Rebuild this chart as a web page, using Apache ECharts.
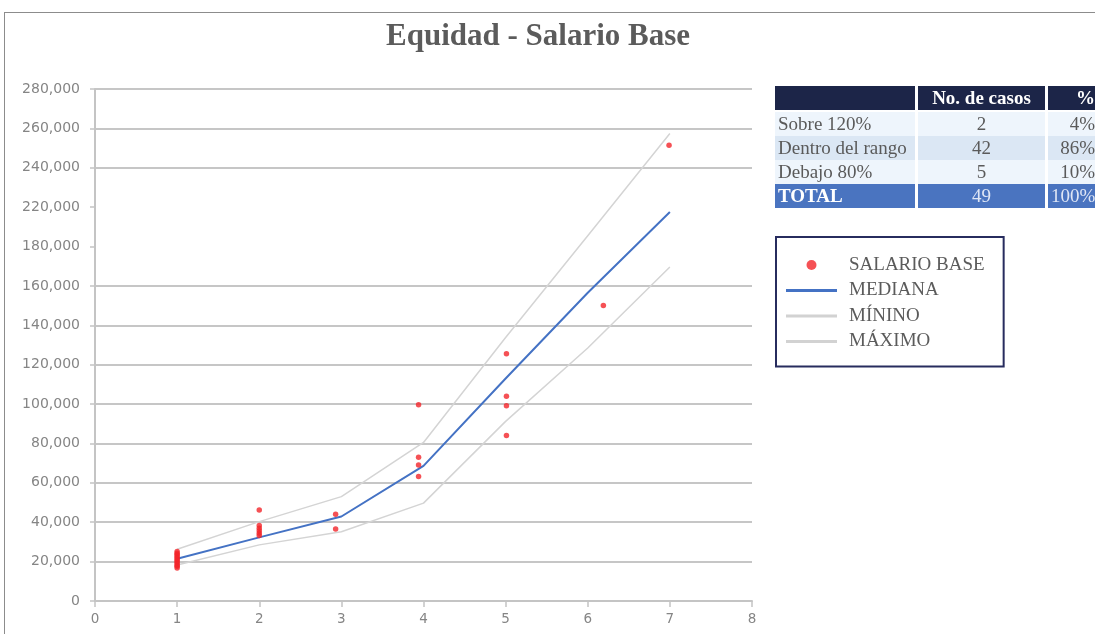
<!DOCTYPE html>
<html>
<head>
<meta charset="utf-8">
<script src="https://cdn.jsdelivr.net/npm/echarts@6/dist/echarts.min.js"></script>
<style>
  html, body { margin:0; padding:0; background:#fff; }
  #wrap { position:relative; width:1095px; height:634px; overflow:hidden; background:#fff; }
  #frame { position:absolute; left:4px; top:12px; right:-10px; bottom:-10px; border-top:1px solid #8c8c8c; border-left:1px solid #8c8c8c; }
  #chart { position:absolute; left:0; top:0; width:1095px; height:634px; }
  #tbl { position:absolute; left:772px; top:86px; width:328px; table-layout:fixed; border-collapse:separate; border-spacing:3px 0; font-family:"Liberation Serif","Times New Roman",serif; font-size:19px; color:#5a5a5a; }
  #tbl td, #tbl th { height:24px; padding:0 3px; line-height:24px; white-space:nowrap; overflow:visible; box-sizing:border-box; }
  #tbl th { background:#1c2548; color:#fff; font-weight:bold; height:26px; border-bottom:2px solid #fff; line-height:24px; }
  #tbl .c1 { text-align:left; }
  #tbl .c2 { text-align:center; }
  #tbl .c3 { text-align:right; padding-right:2px; }
  #tbl tr.light td { background:#eef5fc; }
  #tbl tr.mid td { background:#dbe7f4; }
  #tbl tr.total td { background:#4a74c0; color:#dfe6f5; }
  #tbl tr.total td.c1 { color:#fff; font-weight:bold; }
</style>
</head>
<body>
<div id="wrap">
  <div id="frame"></div>
  <div id="chart"></div>
  <table id="tbl"></table>
</div>
<script>
// ---- data ----
const chartTitle = 'Equidad - Salario Base';
const seriesNames = ['SALARIO BASE', 'MEDIANA', 'MÍNINO', 'MÁXIMO'];

const lineX = [1, 2, 3, 4, 5, 6, 7];
const medianValues = [21500, 32300, 42900, 68600, 113000, 156500, 215000];
const minValues = [18300, 28500, 35200, 49700, 91200, 128500, 169600];
const maxValues = [26300, 40300, 53000, 80500, 133800, 191000, 257400];

const salaryX = [1, 1, 1, 1, 1, 1, 1, 1, 1, 1, 1, 1,
                 2, 2, 2, 2, 2, 2,
                 2.93, 2.93,
                 3.94, 3.94, 3.94, 3.94,
                 5.01, 5.01, 5.01, 5.01,
                 6.19, 6.99];
const salaryY = [16800, 17600, 18200, 19100, 19800, 20600, 21300, 22100, 22900, 23600, 24300, 25100,
                 33200, 34400, 35700, 36900, 38300, 46200,
                 44000, 36600,
                 99600, 73000, 69000, 63200,
                 125600, 104000, 99200, 84000,
                 150000, 251400];

const yTicksHidden = [200000]; // value band compressed (axis break)

const tableHeader = ['', 'No. de casos', '%'];
const tableLabels = ['Sobre 120%', 'Dentro del rango', 'Debajo 80%', 'TOTAL'];
const tableCases = [2, 42, 5, 49];
const tablePct = ['4%', '86%', '10%', '100%'];

// ---- table ----
(function () {
  const t = document.getElementById('tbl');
  let html = '<colgroup><col style="width:140px"><col style="width:127px"><col style="width:49px"></colgroup>';
  html += '<tr>' + tableHeader.map((h, i) => '<th class="c' + (i + 1) + '">' + h + '</th>').join('') + '</tr>';
  const cls = ['light', 'mid', 'light', 'total'];
  tableLabels.forEach((lab, i) => {
    html += '<tr class="' + cls[i] + '"><td class="c1">' + lab + '</td><td class="c2">' + tableCases[i] + '</td><td class="c3">' + tablePct[i] + '</td></tr>';
  });
  t.innerHTML = html;
})();

// ---- chart ----
const fmt = v => String(Math.round(v)).replace(/\B(?=(\d{3})+(?!\d))/g, ',');
const chart = echarts.init(document.getElementById('chart'), null, { renderer: 'canvas' });

const gray = '#d4d4d4';
const axisGray = '#c4c4c4';
chart.setOption({
  animation: false,
  backgroundColor: 'transparent',
  title: {
    text: chartTitle,
    left: 533, top: 16, textAlign: 'center',
    textStyle: { fontFamily: 'Liberation Serif', fontWeight: 'bold', fontSize: 31, color: '#5b5b5b' }
  },
  grid: { left: 95, right: 343, top: 89, bottom: 33, containLabel: false },
  legend: {
    orient: 'vertical',
    left: 776, top: 237,
    padding: [18, 19, 15, 10],
    borderColor: '#272c5e', borderWidth: 2,
    itemWidth: 51, itemHeight: 14, itemGap: 5.5,
    textStyle: { fontFamily: 'Liberation Serif', fontSize: 19, color: '#5b5b5b', lineHeight: 20, padding: [0, 0, 0, 7] },
    selectedMode: false,
    data: [
      { name: seriesNames[0], icon: 'path://M0,0M51,14M25.5,2a5,5 0 1,0 0.001,0z', itemStyle: { color: '#f2262b', borderWidth: 0 } },
      { name: seriesNames[1], icon: 'path://M0,0M51,14M0,5.5h51v3h-51z', itemStyle: { color: '#4472c4', borderWidth: 0 } },
      { name: seriesNames[2], icon: 'path://M0,0M51,14M0,5.5h51v3h-51z', itemStyle: { color: '#d2d2d2', borderWidth: 0 } },
      { name: seriesNames[3], icon: 'path://M0,0M51,14M0,5.5h51v3h-51z', itemStyle: { color: '#d2d2d2', borderWidth: 0 } }
    ]
  },
  xAxis: {
    type: 'value', min: 0, max: 8, interval: 1,
    axisLine: { show: true, lineStyle: { color: axisGray, width: 2 } },
    axisTick: { show: true, length: 6, lineStyle: { color: axisGray, width: 1.5 } },
    splitLine: { show: false },
    axisLabel: { fontFamily: 'DejaVu Sans', fontSize: 13.5, color: '#858585', margin: 11 }
  },
  yAxis: [
    {
      type: 'value', min: 0, max: 280000, interval: 20000,
      breaks: [{ start: 180000, end: 220000, gap: 20000 }],
      breakArea: { show: false },
      axisLine: { show: false },
      axisTick: { show: true, length: 5, lineStyle: { color: axisGray, width: 1.5 } },
      splitLine: { show: true, lineStyle: { color: '#c6c6c6', width: 2 } },
      axisLabel: {
        fontFamily: 'DejaVu Sans', fontSize: 14, color: '#858585', margin: 15,
        formatter: v => (yTicksHidden.indexOf(v) >= 0 ? '' : fmt(v))
      }
    },
    {
      type: 'value', min: 0, max: 1, position: 'left', offset: 0,
      axisLine: { show: true, lineStyle: { color: axisGray, width: 2 } },
      axisTick: { show: false }, axisLabel: { show: false }, splitLine: { show: false }
    }
  ],
  series: [
    {
      name: seriesNames[0], type: 'scatter', z: 5, yAxisIndex: 0,
      symbol: 'circle', symbolSize: 5.5,
      itemStyle: { color: '#f2262b' },
      data: salaryX.map((x, i) => [x, salaryY[i]])
    },
    {
      name: seriesNames[1], type: 'line', z: 4, symbol: 'none', yAxisIndex: 0,
      lineStyle: { color: '#4472c4', width: 2 }, itemStyle: { color: '#4472c4' },
      data: lineX.map((x, i) => [x, medianValues[i]])
    },
    {
      name: seriesNames[2], type: 'line', z: 3, symbol: 'none', yAxisIndex: 0,
      lineStyle: { color: gray, width: 1.5 }, itemStyle: { color: gray },
      data: lineX.map((x, i) => [x, minValues[i]])
    },
    {
      name: seriesNames[3], type: 'line', z: 3, symbol: 'none', yAxisIndex: 0,
      lineStyle: { color: gray, width: 1.5 }, itemStyle: { color: gray },
      data: lineX.map((x, i) => [x, maxValues[i]])
    }
  ]
});
</script>
</body>
</html>
